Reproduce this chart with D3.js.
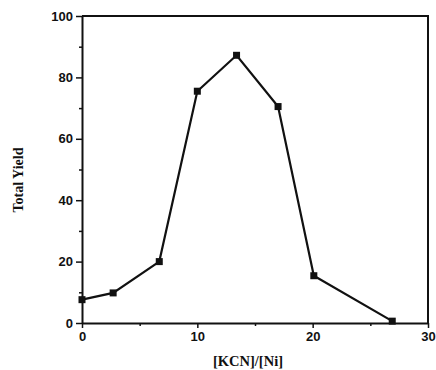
<!DOCTYPE html>
<html>
<head>
<meta charset="utf-8">
<script src="https://cdn.jsdelivr.net/npm/d3@7"></script>
<style>
  body { margin: 0; background: #fff; }
  .tick text { font-family: "Liberation Sans", Arial, sans-serif; font-size: 13px; font-weight: bold; fill: #111; }
  .title { font-family: "Liberation Serif", "Times New Roman", serif; font-weight: bold; fill: #111; }
</style>
</head>
<body>
<div id="chart"></div>
<script>
// data
let ratio = [0, 2.7, 6.7, 10, 13.4, 17, 20.1, 26.9];
let yieldVals = [7.6, 9.8, 20, 75.5, 87.2, 70.5, 15.4, 0.6];
let xTicks = [0, 10, 20, 30];
let yTicks = [0, 20, 40, 60, 80, 100];

let width = 436, height = 370;
let margin = {top: 16, right: 8, bottom: 47, left: 82};

let svg = d3.select("#chart").append("svg")
    .attr("width", width)
    .attr("height", height);

let x = d3.scaleLinear().domain([0, 30]).range([margin.left, width - margin.right]);
let y = d3.scaleLinear().domain([0, 100]).range([height - margin.bottom, margin.top]);

// minor ticks
svg.append("g")
    .attr("transform", `translate(0,${y(0)})`)
    .call(d3.axisBottom(x).tickValues([5, 15, 25]).tickSize(3).tickFormat(""))
    .call(g => g.select(".domain").remove())
    .selectAll("line").attr("stroke", "#111").attr("stroke-width", 1.5);
svg.append("g")
    .attr("transform", `translate(${x(0)},0)`)
    .call(d3.axisLeft(y).tickValues([10, 30, 50, 70, 90]).tickSize(3).tickFormat(""))
    .call(g => g.select(".domain").remove())
    .selectAll("line").attr("stroke", "#111").attr("stroke-width", 1.5);

// main axes
let xAxis = svg.append("g")
    .attr("transform", `translate(0,${y(0)})`)
    .call(d3.axisBottom(x).tickValues(xTicks).tickSize(5).tickSizeOuter(0).tickPadding(4));
let yAxis = svg.append("g")
    .attr("transform", `translate(${x(0)},0)`)
    .call(d3.axisLeft(y).tickValues(yTicks).tickSize(6).tickSizeOuter(0).tickPadding(3));

[xAxis, yAxis].forEach(a => {
    a.select(".domain").attr("stroke", "#111").attr("stroke-width", 2);
    a.selectAll(".tick line").attr("stroke", "#111").attr("stroke-width", 1.5);
});

// top and right frame
svg.append("path")
    .attr("d", `M${x(0)},${y(100)}H${x(30)}V${y(0)}`)
    .attr("fill", "none")
    .attr("stroke", "#111")
    .attr("stroke-width", 2);

let pts = ratio.map((r, i) => ({r: r, v: yieldVals[i]}));

let line = d3.line().x(d => x(d.r)).y(d => y(d.v));
svg.append("path")
    .datum(pts)
    .attr("d", line)
    .attr("fill", "none")
    .attr("stroke", "#111")
    .attr("stroke-width", 2.2);

let s = 7;
svg.selectAll(".pt")
    .data(pts)
    .enter().append("rect")
    .attr("class", "pt")
    .attr("x", d => x(d.r) - s / 2)
    .attr("y", d => y(d.v) - s / 2)
    .attr("width", s)
    .attr("height", s)
    .attr("fill", "#111");

// axis titles
svg.append("text")
    .attr("class", "title")
    .attr("x", 248)
    .attr("y", 366)
    .attr("text-anchor", "middle")
    .attr("font-size", 14.5)
    .text("[KCN]/[Ni]");

svg.append("text")
    .attr("class", "title")
    .attr("transform", `translate(23,180) rotate(-90)`)
    .attr("text-anchor", "middle")
    .attr("font-size", 14)
    .text("Total Yield");
</script>
</body>
</html>
